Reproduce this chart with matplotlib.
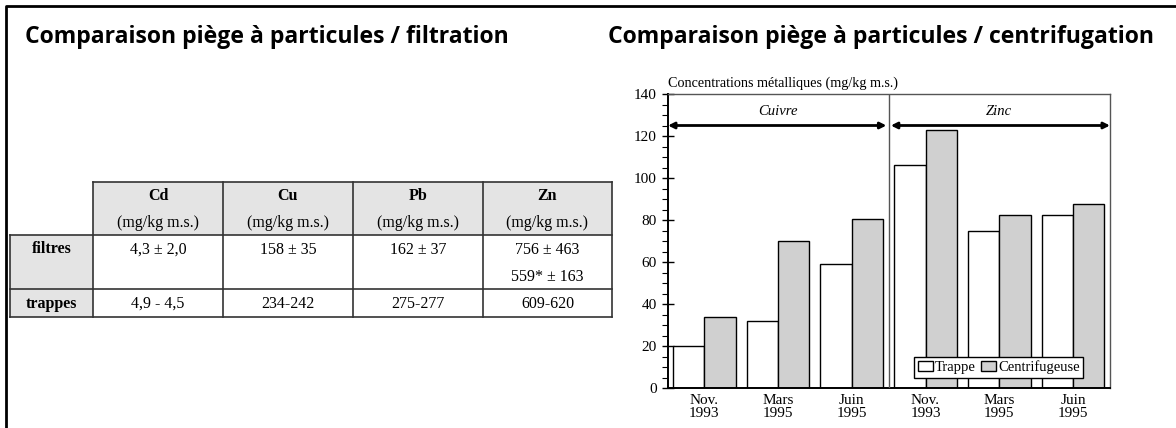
import matplotlib.pyplot as plt
from matplotlib.patches import Rectangle
from matplotlib.ticker import MultipleLocator

# bar chart data
periods = ["Nov.\n1993", "Mars\n1995", "Juin\n1995"]
metals_chart = ["Cuivre", "Zinc"]
trappe = [20, 32, 59, 106, 75, 82.5]
centrifugeuse = [34, 70, 80.5, 123, 82.5, 87.5]

# table data
tab_metals = ["Cd", "Cu", "Pb", "Zn"]
tab_unit = "(mg/kg m.s.)"
tab_rows = ["filtres", "trappes"]
filtres_vals = [["4,3 ± 2,0"], ["158 ± 35"], ["162 ± 37"], ["756 ± 463", "559* ± 163"]]
trappes_vals = ["4,9 - 4,5", "234-242", "275-277", "609-620"]

W, H = 1176, 428
fig = plt.figure(figsize=(W / 100, H / 100), dpi=100)

# overlay in pixel coordinates for titles, frame and table
ov = fig.add_axes([0, 0, 1, 1])
ov.set_xlim(0, W)
ov.set_ylim(H, 0)
ov.axis("off")
ov.plot([6, 6, W], [H, 6, 6], color="black", lw=2, solid_capstyle="butt")

tfont = dict(family="Open Sans", weight="bold", fontsize=16.6, va="center", ha="left")
ov.text(25, 37, "Comparaison piège à particules / filtration", **tfont)
ov.text(608, 37, "Comparaison piège à particules / centrifugation", **tfont)

# table
grey = "#e4e4e4"
cols = [93, 223, 353, 483, 612]
x0 = 10
rows_y = [182, 235, 289, 317]
serif = "Liberation Serif"
fs = 11.5
ov.add_patch(Rectangle((cols[0], rows_y[0]), cols[-1] - cols[0], rows_y[1] - rows_y[0],
                       facecolor=grey, edgecolor="none"))
ov.add_patch(Rectangle((x0, rows_y[1]), cols[0] - x0, rows_y[3] - rows_y[1],
                       facecolor=grey, edgecolor="none"))
lc = "#333333"
ov.plot([cols[0], cols[-1]], [rows_y[0]] * 2, color=lc, lw=1.2)
for y in rows_y[1:]:
    ov.plot([x0, cols[-1]], [y, y], color=lc, lw=1.2)
ov.plot([x0, x0], [rows_y[1], rows_y[3]], color=lc, lw=1.2)
for x in cols:
    ov.plot([x, x], [rows_y[0], rows_y[3]], color=lc, lw=1.2)

for i, m in enumerate(tab_metals):
    cx = (cols[i] + cols[i + 1]) / 2
    ov.text(cx, 196, m, family=serif, weight="bold", fontsize=fs, ha="center", va="center")
    ov.text(cx, 223, tab_unit, family=serif, fontsize=fs, ha="center", va="center")
    for k, v in enumerate(filtres_vals[i]):
        ov.text(cx, 250 + k * 27, v, family=serif, fontsize=fs, ha="center", va="center")
    ov.text(cx, 304, trappes_vals[i], family=serif, fontsize=fs, ha="center", va="center")
cx0 = (x0 + cols[0]) / 2
ov.text(cx0, 249, tab_rows[0], family=serif, weight="bold", fontsize=fs, ha="center", va="center")
ov.text(cx0, 304, tab_rows[1], family=serif, weight="bold", fontsize=fs, ha="center", va="center")

# bar chart
ax = fig.add_axes([668 / W, 1 - 388 / H, (1110 - 668) / W, (388 - 94) / H])
n = len(trappe)
xs = list(range(n))
bw = 0.425
ax.bar([x - bw / 2 for x in xs], trappe, width=bw, facecolor="white",
       edgecolor="black", lw=1, label="Trappe", zorder=2)
ax.bar([x + bw / 2 for x in xs], centrifugeuse, width=bw, facecolor="#d0d0d0",
       edgecolor="black", lw=1, label="Centrifugeuse", zorder=2)

ax.set_xlim(-0.49, 5.5)
ax.set_ylim(0, 140)
ax.axvline(2.5, color="#555555", lw=1, zorder=3)

ax.set_xticks(xs)
ax.set_xticklabels(periods * 2, family=serif, fontsize=11, linespacing=1.0)
ax.tick_params(axis="x", length=0, pad=4)
ax.yaxis.set_major_locator(MultipleLocator(20))
ax.yaxis.set_minor_locator(MultipleLocator(5))
ax.tick_params(axis="y", which="major", direction="inout", length=9, width=1)
ax.tick_params(axis="y", which="minor", direction="out", length=4, width=0.8)
for lab in ax.get_yticklabels():
    lab.set_family(serif)
    lab.set_fontsize(11)

for s in ["top", "right"]:
    ax.spines[s].set_color("#555555")
    ax.spines[s].set_linewidth(1)
for s in ["left", "bottom"]:
    ax.spines[s].set_linewidth(1.4)

ax.text(0, 1.012, "Concentrations métalliques (mg/kg m.s.)", transform=ax.transAxes,
        family=serif, fontsize=10.2, ha="left", va="bottom")

# metal arrows
arrow = dict(arrowstyle="<|-|>", color="black", lw=2, shrinkA=0, shrinkB=0, mutation_scale=9)
ax.annotate("", xy=(-0.49, 125), xytext=(2.47, 125), arrowprops=arrow)
ax.annotate("", xy=(2.53, 125), xytext=(5.5, 125), arrowprops=arrow)
ax.text(1.0, 131.5, metals_chart[0], family=serif, style="italic", fontsize=10.5,
        ha="center", va="center")
ax.text(4.0, 131.5, metals_chart[1], family=serif, style="italic", fontsize=10.5,
        ha="center", va="center")

leg = ax.legend(loc="lower right", bbox_to_anchor=(0.94, 0.035), ncol=2,
                prop=dict(family=serif, size=10.5), frameon=True, fancybox=False,
                edgecolor="black", framealpha=1, borderpad=0.25, handlelength=1.0,
                handleheight=0.7, handletextpad=0.15, columnspacing=0.4, borderaxespad=0)
leg.get_frame().set_linewidth(1)

fig.savefig("out.png", dpi=100)
